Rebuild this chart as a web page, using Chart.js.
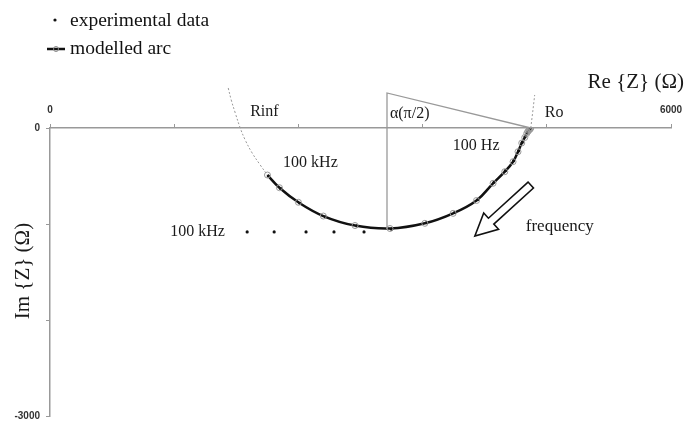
<!DOCTYPE html>
<html lang="en">
<head>
    <meta charset="UTF-8">
    <title>Impedance arc</title>
    <script src="https://cdn.jsdelivr.net/npm/chart.js"></script>
    <style>
        body { margin: 0; background: #fff; }
        #wrap { width: 685px; height: 421px; }
    </style>
</head>
<body>
    <div id="wrap"><canvas id="arcChart"></canvas></div>

    <script>
        // Experimental points (Re, Im) in ohms
        const expRe = [1905, 2166, 2474, 2744, 3034,
                       2110, 2230, 2415, 2660, 2965, 3300, 3640, 3910, 4135, 4290, 4400, 4480, 4528, 4562, 4590, 4610, 4628, 4642];
        const expIm = [-1083, -1083, -1083, -1083, -1083,
                       -500, -632, -785, -925, -1020, -1055, -985, -880, -745, -565, -445, -340, -238, -150, -92, -50, -22, -6];

        // Modelled arc (100 kHz -> 100 Hz)
        const arcRe = [2101, 2217, 2400, 2641, 2947, 3285, 3622, 3895, 4121, 4281, 4394, 4474, 4522, 4558, 4587, 4606, 4615, 4625, 4632, 4640, 4645];
        const arcIm = [-490, -622, -774, -917, -1016, -1047, -993, -889, -755, -576, -455, -351, -247, -156, -99, -57, -40, -26, -18, -10, 0];

        // Dotted continuation of the circle
        const extLeftRe = [1722, 1751, 1790, 1838, 1886, 1953, 2031, 2101];
        const extLeftIm = [417, 292, 156, 0, -125, -260, -385, -490];
        const extRightRe = [4645, 4664, 4683];
        const extRightIm = [0, 167, 344];

        // Angle triangle
        const triRe = [3256, 3256, 4645];
        const triIm = [-1052, 365, 0];

        // Tick labels shown on the axes
        const xTickLabels = [0, 6000];
        const yTickLabels = [0, -3000];

        // In-plot text labels [text, Re, Im]
        const notes = [
            ['Rinf', 1934, 167],
            ['\u03b1(\u03c0/2)', 3284, 146],
            ['100 kHz', 2252, -365],
            ['100 Hz', 3892, -188],
            ['Ro', 4780, 156],
            ['100 kHz', 1162, -1083],
            ['frequency', 4597, -1031]
        ];
        // Arrow tail / tip (Re, Im)
        const arrowTail = [4645, -594];
        const arrowTip = [4105, -1125];

        const pts = (xs, ys) => xs.map((x, i) => ({ x: x, y: ys[i] }));
        const serif = '"Liberation Serif", "Times New Roman", serif';

        const decor = {
            id: 'decor',
            afterDatasetsDraw(chart) {
                const c = chart.ctx, xs = chart.scales.x, ys = chart.scales.y;
                c.save();
                // arrow
                const x0 = xs.getPixelForValue(arrowTail[0]), y0 = ys.getPixelForValue(arrowTail[1]);
                const x1 = xs.getPixelForValue(arrowTip[0]), y1 = ys.getPixelForValue(arrowTip[1]);
                const dx = x1 - x0, dy = y1 - y0, len = Math.hypot(dx, dy);
                const ux = dx / len, uy = dy / len, nx = -uy, ny = ux;
                const hw = 4, headW = 11, headL = 22;
                const bx = x1 - ux * headL, by = y1 - uy * headL;
                c.beginPath();
                c.moveTo(x0 + nx * hw, y0 + ny * hw);
                c.lineTo(bx + nx * hw, by + ny * hw);
                c.lineTo(bx + nx * headW, by + ny * headW);
                c.lineTo(x1, y1);
                c.lineTo(bx - nx * headW, by - ny * headW);
                c.lineTo(bx - nx * hw, by - ny * hw);
                c.lineTo(x0 - nx * hw, y0 - ny * hw);
                c.closePath();
                c.fillStyle = '#fff';
                c.fill();
                c.strokeStyle = '#111';
                c.lineWidth = 1.6;
                c.stroke();

                // labels inside plot
                c.fillStyle = '#1a1a1a';
                c.textBaseline = 'middle';
                c.textAlign = 'left';
                notes.forEach(n => {
                    c.font = (n[0] === 'frequency' ? '17px ' : '16px ') + serif;
                    c.fillText(n[0], xs.getPixelForValue(n[1]), ys.getPixelForValue(n[2]));
                });

                // axis titles
                c.font = '21px ' + serif;
                c.textAlign = 'right';
                c.fillText('Re {Z} (\u03a9)', 684, 82);
                c.save();
                c.translate(23, 271);
                c.rotate(-Math.PI / 2);
                c.textAlign = 'center';
                c.font = '21px ' + serif;
                c.fillText('Im {Z} (\u03a9)', 0, 0);
                c.restore();

                // legend
                c.textAlign = 'left';
                c.fillStyle = '#111';
                c.font = '19.5px ' + serif;
                c.beginPath();
                c.arc(55, 20, 1.6, 0, Math.PI * 2);
                c.fill();
                c.fillText('experimental data', 70, 21);
                c.strokeStyle = '#111';
                c.lineWidth = 2.5;
                c.beginPath();
                c.moveTo(47, 49);
                c.lineTo(65, 49);
                c.stroke();
                c.lineWidth = 1;
                c.strokeStyle = '#888';
                c.beginPath();
                c.arc(56, 49, 2.5, 0, Math.PI * 2);
                c.stroke();
                c.fillText('modelled arc', 70, 49);
                c.restore();
            }
        };

        const axisColor = '#999';
        const tickFont = { family: '"Liberation Sans", Arial, sans-serif', size: 10, weight: 'bold' };

        new Chart(document.getElementById('arcChart'), {
            type: 'scatter',
            data: {
                datasets: [
                    {
                        label: 'angle',
                        data: pts(triRe, triIm),
                        showLine: true,
                        borderColor: '#999',
                        borderWidth: 1.3,
                        pointRadius: 0,
                        clip: false
                    },
                    {
                        label: 'ext left',
                        data: pts(extLeftRe, extLeftIm),
                        showLine: true,
                        borderColor: '#999',
                        borderWidth: 1,
                        borderDash: [2, 2],
                        tension: 0.4,
                        pointRadius: 0,
                        clip: false
                    },
                    {
                        label: 'ext right',
                        data: pts(extRightRe, extRightIm),
                        showLine: true,
                        borderColor: '#999',
                        borderWidth: 1,
                        borderDash: [2, 2],
                        pointRadius: 0,
                        clip: false
                    },
                    {
                        label: 'modelled arc',
                        data: pts(arcRe, arcIm),
                        showLine: true,
                        borderColor: '#111',
                        borderWidth: 2.5,
                        tension: 0.4,
                        pointRadius: 3,
                        pointBorderColor: '#999',
                        pointBorderWidth: 1,
                        pointBackgroundColor: 'rgba(0,0,0,0)'
                    },
                    {
                        label: 'experimental data',
                        data: pts(expRe, expIm),
                        showLine: false,
                        pointRadius: 1.6,
                        pointBorderWidth: 0,
                        backgroundColor: '#111'
                    }
                ]
            },
            options: {
                responsive: true,
                maintainAspectRatio: false,
                animation: false,
                layout: { padding: { top: 0, left: 0, right: 14, bottom: 5 } },
                plugins: {
                    legend: { display: false },
                    tooltip: { enabled: false }
                },
                scales: {
                    x: {
                        type: 'linear',
                        position: 'top',
                        min: 0,
                        max: 6000,
                        afterFit: s => { s.height = 128; s.paddingLeft = 0; s.paddingRight = 0; },
                        ticks: {
                            stepSize: 1200,
                            padding: 8,
                            color: '#333',
                            font: tickFont,
                            maxRotation: 0,
                            callback: v => xTickLabels.includes(v) ? String(v) : ''
                        },
                        grid: { drawOnChartArea: false, tickLength: 4, color: axisColor, lineWidth: 1 },
                        border: { color: axisColor, width: 1.5 }
                    },
                    y: {
                        type: 'linear',
                        min: -3000,
                        max: 0,
                        afterFit: s => { s.width = 50; s.paddingTop = 0; s.paddingBottom = 0; },
                        ticks: {
                            stepSize: 1000,
                            padding: 6,
                            color: '#333',
                            font: tickFont,
                            callback: v => yTickLabels.includes(v) ? String(v) : ''
                        },
                        grid: { drawOnChartArea: false, tickLength: 4, color: axisColor, lineWidth: 1 },
                        border: { color: axisColor, width: 1.5 }
                    }
                }
            },
            plugins: [decor]
        });
    </script>
</body>
</html>
